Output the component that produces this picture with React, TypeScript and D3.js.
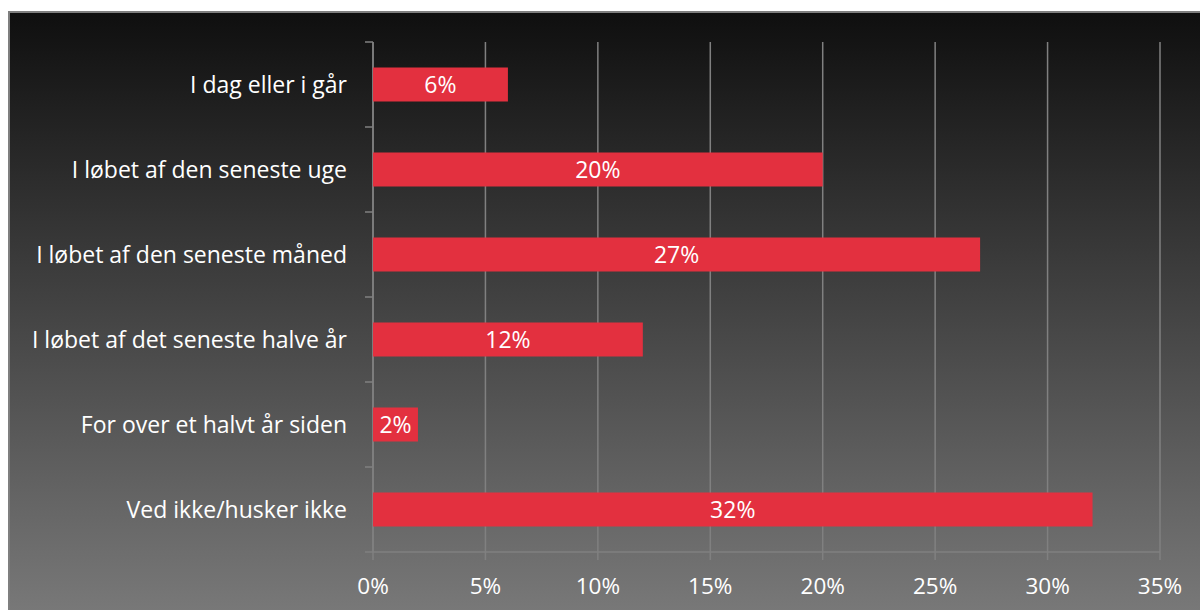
import React from "react";
import * as d3 from "d3";

const categories = [
  "I dag eller i går",
  "I løbet af den seneste uge",
  "I løbet af den seneste måned",
  "I løbet af det seneste halve år",
  "For over et halvt år siden",
  "Ved ikke/husker ikke",
];
const values = [6, 20, 27, 12, 2, 32];
const xTicks = [0, 5, 10, 15, 20, 25, 30, 35];

const W = 1200;
const H = 610;
const FONT = "'Open Sans', 'Noto Sans', sans-serif";

export default function App() {
  const left = 373, right = 1160, top = 42, bottom = 552;
  const x = d3.scaleLinear().domain([0, 35]).range([left, right]);
  const y = d3.scaleBand<string>().domain(categories).range([top, bottom]).paddingInner(0.6).paddingOuter(0.3);
  const band = d3.scaleBand<string>().domain(categories).range([top, bottom]);
  const bounds = [...categories.map((c) => band(c)!), bottom];
  return (
    <svg width={W} height={H} style={{ position: "absolute", left: 0, top: 0 }}>
      <defs>
        <linearGradient id="bg" x1="0" y1="0" x2="0" y2="1">
          <stop offset="0%" stopColor="#0f0f0f" />
          <stop offset="100%" stopColor="#7a7a7a" />
        </linearGradient>
      </defs>
      <rect x={9} y={12} width={W} height={H} fill="url(#bg)" stroke="#7f7f7f" strokeWidth={2} />
      {xTicks.map((t) => (
        <line key={"g" + t} x1={x(t)} x2={x(t)} y1={top} y2={bottom + 8} stroke="#808080" strokeWidth={1.5} />
      ))}
      <line x1={left} x2={right} y1={bottom} y2={bottom} stroke="#808080" strokeWidth={1.5} />
      <line x1={left} x2={left} y1={top} y2={bottom} stroke="#808080" strokeWidth={1.5} />
      {bounds.map((b, i) => (
        <line key={"t" + i} x1={left - 8} x2={left} y1={b} y2={b} stroke="#808080" strokeWidth={1.5} />
      ))}
      {categories.map((c, i) => (
        <g key={c}>
          <rect x={x(0)} y={y(c)} width={x(values[i]) - x(0)} height={y.bandwidth()} fill="#e3303f" />
          <text x={(x(0) + x(values[i])) / 2} y={y(c)! + y.bandwidth() / 2} dy="0.35em" textAnchor="middle" fill="#ffffff" fontFamily={FONT} fontSize={23}>
            {values[i]}%
          </text>
          <text x={347} y={band(c)! + band.bandwidth() / 2} dy="0.35em" textAnchor="end" fill="#ffffff" fontFamily={FONT} fontSize={23}>
            {c}
          </text>
        </g>
      ))}
      {xTicks.map((t) => (
        <text key={"l" + t} x={x(t)} y={586} dy="0.35em" textAnchor="middle" fill="#ffffff" fontFamily={FONT} fontSize={22.5}>
          {t}%
        </text>
      ))}
    </svg>
  );
}
